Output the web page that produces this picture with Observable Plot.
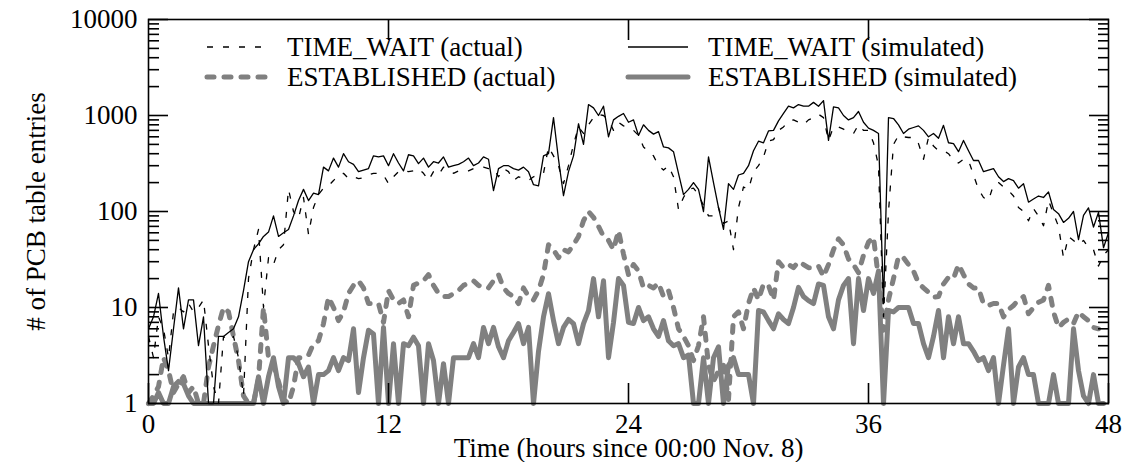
<!DOCTYPE html>
<html><head><meta charset="utf-8">
<script src="https://cdn.jsdelivr.net/npm/d3@7"></script>
<script src="https://cdn.jsdelivr.net/npm/@observablehq/plot@0.6"></script>
<style>
body{margin:0;background:#fff;}
#wrap{position:relative;width:1126px;height:462px;}
#legend{position:absolute;left:0;top:0;pointer-events:none;}
</style></head><body><div id="wrap"></div>
<script>
// sampling interval of all series, hours
const step = 0.25;

// TIME_WAIT (simulated), from t = 0 h
const twSim = [
  6, 8, 14, 5, 2.2, 6, 16, 6,
  12, 12, 4, 8, 1, 1, 5, 5,
  5.5, 6, 8, 15, 30, 40, 46, 55,
  61, 90, 55, 60, 65, 90, 130, 170,
  130, 155, 150, 290, 265, 360, 290, 400,
  330, 310, 260, 270, 280, 380, 370, 380,
  300, 400, 320, 265, 390, 380, 315, 360,
  290, 330, 320, 370, 290, 300, 310, 330,
  360, 300, 320, 370, 350, 165, 280, 300,
  300, 280, 270, 290, 260, 190, 185, 380,
  400, 950, 350, 146, 260, 380, 820, 500,
  1300, 1200, 1000, 1250, 600, 900, 980, 1050,
  850, 900, 620, 800, 700, 640, 680, 470,
  460, 420, 250, 150, 170, 200, 170, 100,
  370, 200, 110, 65, 195, 170, 240, 250,
  300, 430, 540, 520, 690, 700, 880, 1050,
  1250, 1200, 1300, 1250, 1250, 1370, 1250, 1430,
  550, 1230, 1200, 1000, 900, 950, 1100, 850,
  740, 700, 650, 11, 950, 930, 800, 650,
  720, 750, 780, 700, 600, 650, 580, 790,
  520, 510, 420, 550, 430, 340, 340, 260,
  270, 280, 230, 205, 220, 210, 175, 195,
  125, 135, 145, 140, 160, 105, 95, 77,
  85, 100, 51, 91, 109, 69, 98, 42,
  60
];

// TIME_WAIT (actual)
const twAct = [
  5, 3, 8, 6, 3, 9, 10, 9,
  11, 9, 10, 12, 4, 1.5, 1, 5,
  4.5, 5, 3, 1.2, 20, 40, 65, 10,
  33, 28, 40, 45, 170, 100, 85, 140,
  58, 110, 150, 175, 185, 210, 240, 250,
  220, 230, 220, 225, 240, 250, 250, 240,
  195, 230, 260, 270, 260, 265, 280, 250,
  210, 260, 240, 290, 270, 250, 265, 260,
  265, 280, 290, 290, 280, 280, 230, 280,
  260, 210, 230, 220, 210, 230, 240, 250,
  470, 380, 300, 195, 300, 500, 760, 650,
  800, 950, 1030, 1000, 900, 700, 850, 780,
  740, 700, 620, 470, 420, 380, 300, 270,
  300, 230, 105, 140, 170, 175, 150, 115,
  90, 90, 110, 75, 80, 40, 110, 180,
  170, 260, 300, 370, 540, 560, 700, 760,
  880, 900, 850, 800, 900, 950, 1030, 950,
  550, 760, 760, 720, 680, 650, 800, 700,
  700, 520, 300, 8, 100, 500, 620, 600,
  590, 590, 510, 350, 590, 480, 430, 430,
  400, 340, 320, 350, 340, 240, 170, 140,
  130, 190, 200, 180, 165, 145, 110, 100,
  80, 107, 90, 71, 130, 95, 70, 33,
  55, 50, 45, 50, 42, 40, 27, 35,
  40
];

// ESTABLISHED (actual)
const estAct = [
  1, 1.2, 1.5, 3, 2.2, 1.3, 1.6, 1.9,
  1.3, 1.5, 1, 1, 2.4, 4, 6.5, 10,
  9, 5, 2.8, 1.2, 1, 1, 1.8, 10,
  3, 2.5, 1.7, 1.1, 1, 1.5, 3, 3,
  3.2, 4.2, 4.5, 6.8, 12.8, 10, 7.3, 9,
  14, 17, 19, 16, 11, 11, 11, 7,
  15, 12, 11, 12, 8, 17, 18, 19,
  22, 17, 14, 13, 13, 14, 15, 17,
  18, 19, 17, 16, 16, 19, 22, 16,
  14, 13, 11, 16, 13, 12, 15, 22,
  45, 40, 33, 40, 38, 45, 55, 80,
  100, 87, 70, 55, 50, 40, 63, 36,
  22, 28, 24, 16, 17, 16, 18, 13,
  15, 10, 6, 5, 4, 2.8, 4, 8,
  2.5, 1.7, 2.2, 2.5, 1.1, 8, 9, 6,
  11, 16, 12, 17.6, 17, 12, 30, 26,
  28, 26, 30, 28, 26, 26, 27, 21,
  28, 40, 52, 45, 32, 28, 23, 35,
  48, 54, 20, 5.8, 12, 20, 34, 33,
  28, 24, 18, 16, 14.4, 12.8, 13, 17.6,
  20.6, 20, 28, 22, 17.6, 16, 16, 10.9,
  10.5, 11, 11, 8, 9.5, 10.5, 12, 13,
  8.6, 10, 11.3, 12, 17, 9, 6.2, 7,
  7.6, 6.8, 9, 8, 7.3, 6.2, 6
];

// ESTABLISHED (simulated)
const estSim = [
  1, 1, 1.3, 1, 1, 1.5, 1.7, 1.6,
  1.2, 1, 1, 1, 1, 1, 1, 1,
  1, 1, 1, 1, 1, 1, 1.9, 1,
  1.9, 3, 1.5, 1, 3, 3, 2.6, 1.9,
  2.4, 1, 2, 2, 2.2, 3, 2.2, 3,
  2.8, 6, 1.3, 3, 5.8, 5.3, 1, 6.2,
  1, 4.2, 1, 4.2, 4, 4.9, 4, 1,
  4.2, 2.8, 1, 2.6, 1, 3, 3, 3,
  3, 4.2, 3, 6.2, 4.2, 6.2, 3.9, 3,
  4.5, 5.5, 6.8, 4.2, 6.2, 1, 3.5, 8,
  13.9, 7.3, 4.2, 6.2, 7.5, 6.8, 4.2, 6.8,
  9.3, 20, 8, 19, 3, 7, 20, 17,
  7, 6.8, 10, 7.3, 8, 6, 5, 7.3,
  4.5, 4, 4.2, 3, 3.2, 1, 1, 3,
  1, 3, 3.9, 1, 2.5, 3, 2, 2,
  2, 1, 9.3, 9, 7.3, 6, 8.6, 7.5,
  6.8, 10, 16.2, 13, 11.8, 11, 17.6, 17,
  8, 6, 12, 17, 20, 4.2, 20, 9.3,
  20, 14, 24, 1, 9.3, 9, 10, 10,
  10, 6.8, 6.8, 4.2, 3, 5, 9.3, 3,
  8, 4.2, 8, 4.2, 4.2, 3.5, 2.8, 3,
  2.2, 3, 1, 2.5, 6, 1, 2.4, 3,
  2, 2, 1, 1, 1, 2, 1, 1,
  1, 6, 2.2, 1.2, 1, 2, 1, 1
];

const xTicks = [0, 12, 24, 36, 48];
const xInnerTicks = [12, 24, 36];
const yMajor = [1, 10, 100, 1000, 10000];
const yMinor = [2,3,4,5,6,7,8,9, 20,30,40,50,60,70,80,90, 200,300,400,500,600,700,800,900, 2000,3000,4000,5000,6000,7000,8000,9000];

const xTitle = "Time (hours since 00:00 Nov. 8)";
const yTitle = "# of PCB table entries";

const FONT = "'Liberation Serif', 'Times New Roman', serif";
const GRAY = "#808080";
const series = [
  {label: "ESTABLISHED (simulated)", values: estSim, stroke: GRAY, width: 5, dash: null, cap: "round"},
  {label: "ESTABLISHED (actual)", values: estAct, stroke: GRAY, width: 5, dash: "7,10", cap: "round"},
  {label: "TIME_WAIT (actual)", values: twAct, stroke: "black", width: 1.3, dash: "6,10", cap: "butt"},
  {label: "TIME_WAIT (simulated)", values: twSim, stroke: "black", width: 1.3, dash: null, cap: "butt"}
];
const rows = s => s.values.map((v, i) => ({t: i * step, v}));

const chart = Plot.plot({
  width: 1126, height: 462,
  marginLeft: 148, marginRight: 18, marginTop: 19, marginBottom: 59,
  style: {fontFamily: FONT, fontSize: "27px", background: "white", color: "black", overflow: "visible"},
  x: {domain: [0, 48]},
  y: {type: "log", domain: [1, 10000]},
  marks: [
    ...series.map(s => Plot.line(rows(s), {
      x: "t", y: "v", stroke: s.stroke, strokeWidth: s.width,
      strokeDasharray: s.dash, strokeLinecap: s.cap, strokeLinejoin: "round"
    })),
    Plot.frame({stroke: "black", strokeWidth: 1.6}),
    Plot.axisY(yMajor, {anchor: "left", tickSize: -20, tickPadding: 31, strokeWidth: 1.6, tickFormat: d => String(d), label: null}),
    Plot.axisY(yMinor, {anchor: "left", tickSize: -11, strokeWidth: 1.6, fill: "none", label: null}),
    Plot.axisY(yMajor, {anchor: "right", tickSize: -20, strokeWidth: 1.6, fill: "none", label: null}),
    Plot.axisY(yMinor, {anchor: "right", tickSize: -11, strokeWidth: 1.6, fill: "none", label: null}),
    Plot.axisX(xTicks, {anchor: "bottom", tickSize: -20, tickPadding: 30.8, strokeWidth: 1.6, tickFormat: d => String(d), label: null}),
    Plot.axisX(xInnerTicks, {anchor: "top", tickSize: -20, strokeWidth: 1.6, fill: "none", label: null}),
    Plot.text([xTitle], {text: d => d, frameAnchor: "bottom", textAnchor: "middle", lineAnchor: "middle", dy: 44.4}),
    Plot.text([yTitle], {text: d => d, frameAnchor: "left", textAnchor: "middle", lineAnchor: "middle", rotate: -90, dx: -112.6})
  ]
});

const wrap = document.getElementById("wrap");
wrap.appendChild(chart);

// in-plot legend (two columns, two rows)
const legendItems = [
  {s: series[2], col: 0, row: 0},
  {s: series[1], col: 0, row: 1},
  {s: series[3], col: 1, row: 0},
  {s: series[0], col: 1, row: 1}
];
const cols = [{x1: 207, x2: 268, tx: 287}, {x1: 628, x2: 688, tx: 708}];
const rowY = [47, 77];
const lg = d3.select(wrap).append("svg")
  .attr("id", "legend").attr("width", 1126).attr("height", 462)
  .style("font-family", FONT)
  .style("font-size", "27px");
for (const it of legendItems) {
  const c = cols[it.col], y = rowY[it.row];
  lg.append("line").attr("x1", c.x1).attr("x2", c.x2).attr("y1", y).attr("y2", y)
    .attr("stroke", it.s.stroke).attr("stroke-width", it.s.width)
    .attr("stroke-dasharray", it.s.dash).attr("stroke-linecap", it.s.cap);
  lg.append("text").attr("x", c.tx).attr("y", y + 8.9).attr("fill", "black").text(it.s.label);
}
</script>
</body></html>
